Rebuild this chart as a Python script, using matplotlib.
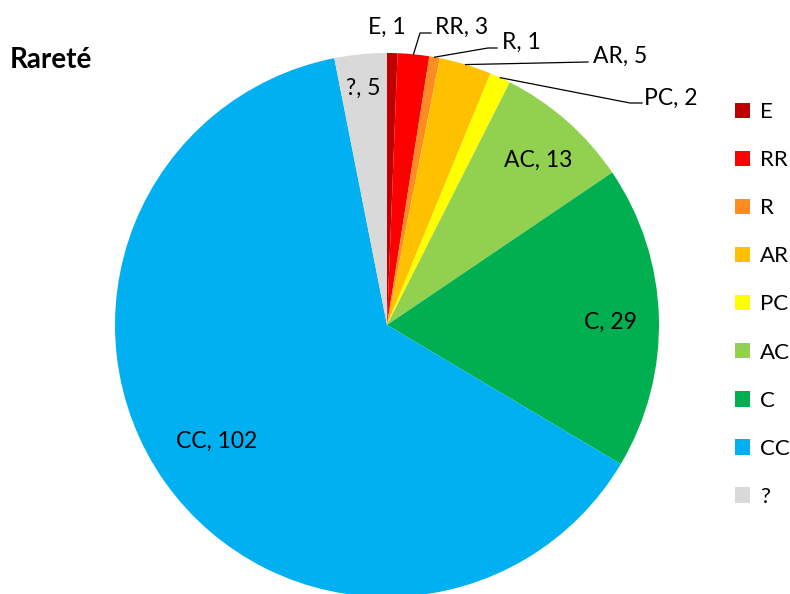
import matplotlib
matplotlib.use("Agg")
import matplotlib.pyplot as plt
import numpy as np
from matplotlib.patches import Patch

plt.rcParams['font.family'] = ['Lato', 'DejaVu Sans']

categories = ["E", "RR", "R", "AR", "PC", "AC", "C", "CC", "?"]
counts = [1, 3, 1, 5, 2, 13, 29, 102, 5]
colors = ["#C00000", "#FF0000", "#FF8C22", "#FFC000", "#FFFF00",
          "#92D050", "#00B050", "#00B0F0", "#D9D9D9"]

W, H = 790, 594
CX, CY, R = 387, 325, 272  # pie centre / radius in pixels


def px(x, y):
    # pixel (from top-left) -> data coords of the pie
    return (x - CX) / R, (CY - y) / R


fig = plt.figure(figsize=(W / 100, H / 100), dpi=100)
ax = fig.add_axes([0, 0, 1, 1])

wedges, _ = ax.pie(counts, colors=colors, startangle=90, counterclock=False,
                   radius=1, center=(0, 0), frame=True,
                   wedgeprops=dict(linewidth=0))
ax.set_xlim(-CX / R, (W - CX) / R)
ax.set_ylim((CY - H) / R, CY / R)
ax.axis("off")

# label layout: text centre in pixels, optional leader elbow/end in pixels
layout = {
    "E": ((387, 27), None),
    "RR": ((462, 27), [(420, 33), (431, 33)]),
    "R": ((521, 42), [(488, 48), (497, 48)]),
    "AR": ((620, 56), [(588, 62)]),
    "PC": ((671, 98), [(630, 103), (642, 103)]),
    "AC": ((538, 160), None),
    "C": ((610, 322), None),
    "CC": ((217, 441), None),
    "?": ((363, 88), None),
}

fs = 16.5
for w, cat, n in zip(wedges, categories, counts):
    (tx, ty), leader = layout[cat]
    x, y = px(tx, ty)
    ax.text(x, y, f"{cat}, {n}", ha="center", va="center", fontsize=fs,
            color="black")
    if leader:
        a = np.deg2rad((w.theta1 + w.theta2) / 2)
        pts = [(np.cos(a), np.sin(a))] + [px(*p) for p in leader]
        xs, ys = zip(*pts)
        ax.plot(xs, ys, color="black", linewidth=0.9)

fig.text(10 / W, 1 - 60 / H, "Rareté", fontsize=20, fontweight="bold",
         ha="left", va="center")

handles = [Patch(facecolor=c, edgecolor="none") for c in colors]
fig.legend(handles, categories, loc="upper left",
           bbox_to_anchor=(735 / W, 1 - 102 / H), frameon=False,
           fontsize=16, handlelength=0.68, handleheight=0.68,
           handletextpad=0.45, labelspacing=1.265, borderaxespad=0,
           borderpad=0)

fig.savefig("out.png", dpi=100)
